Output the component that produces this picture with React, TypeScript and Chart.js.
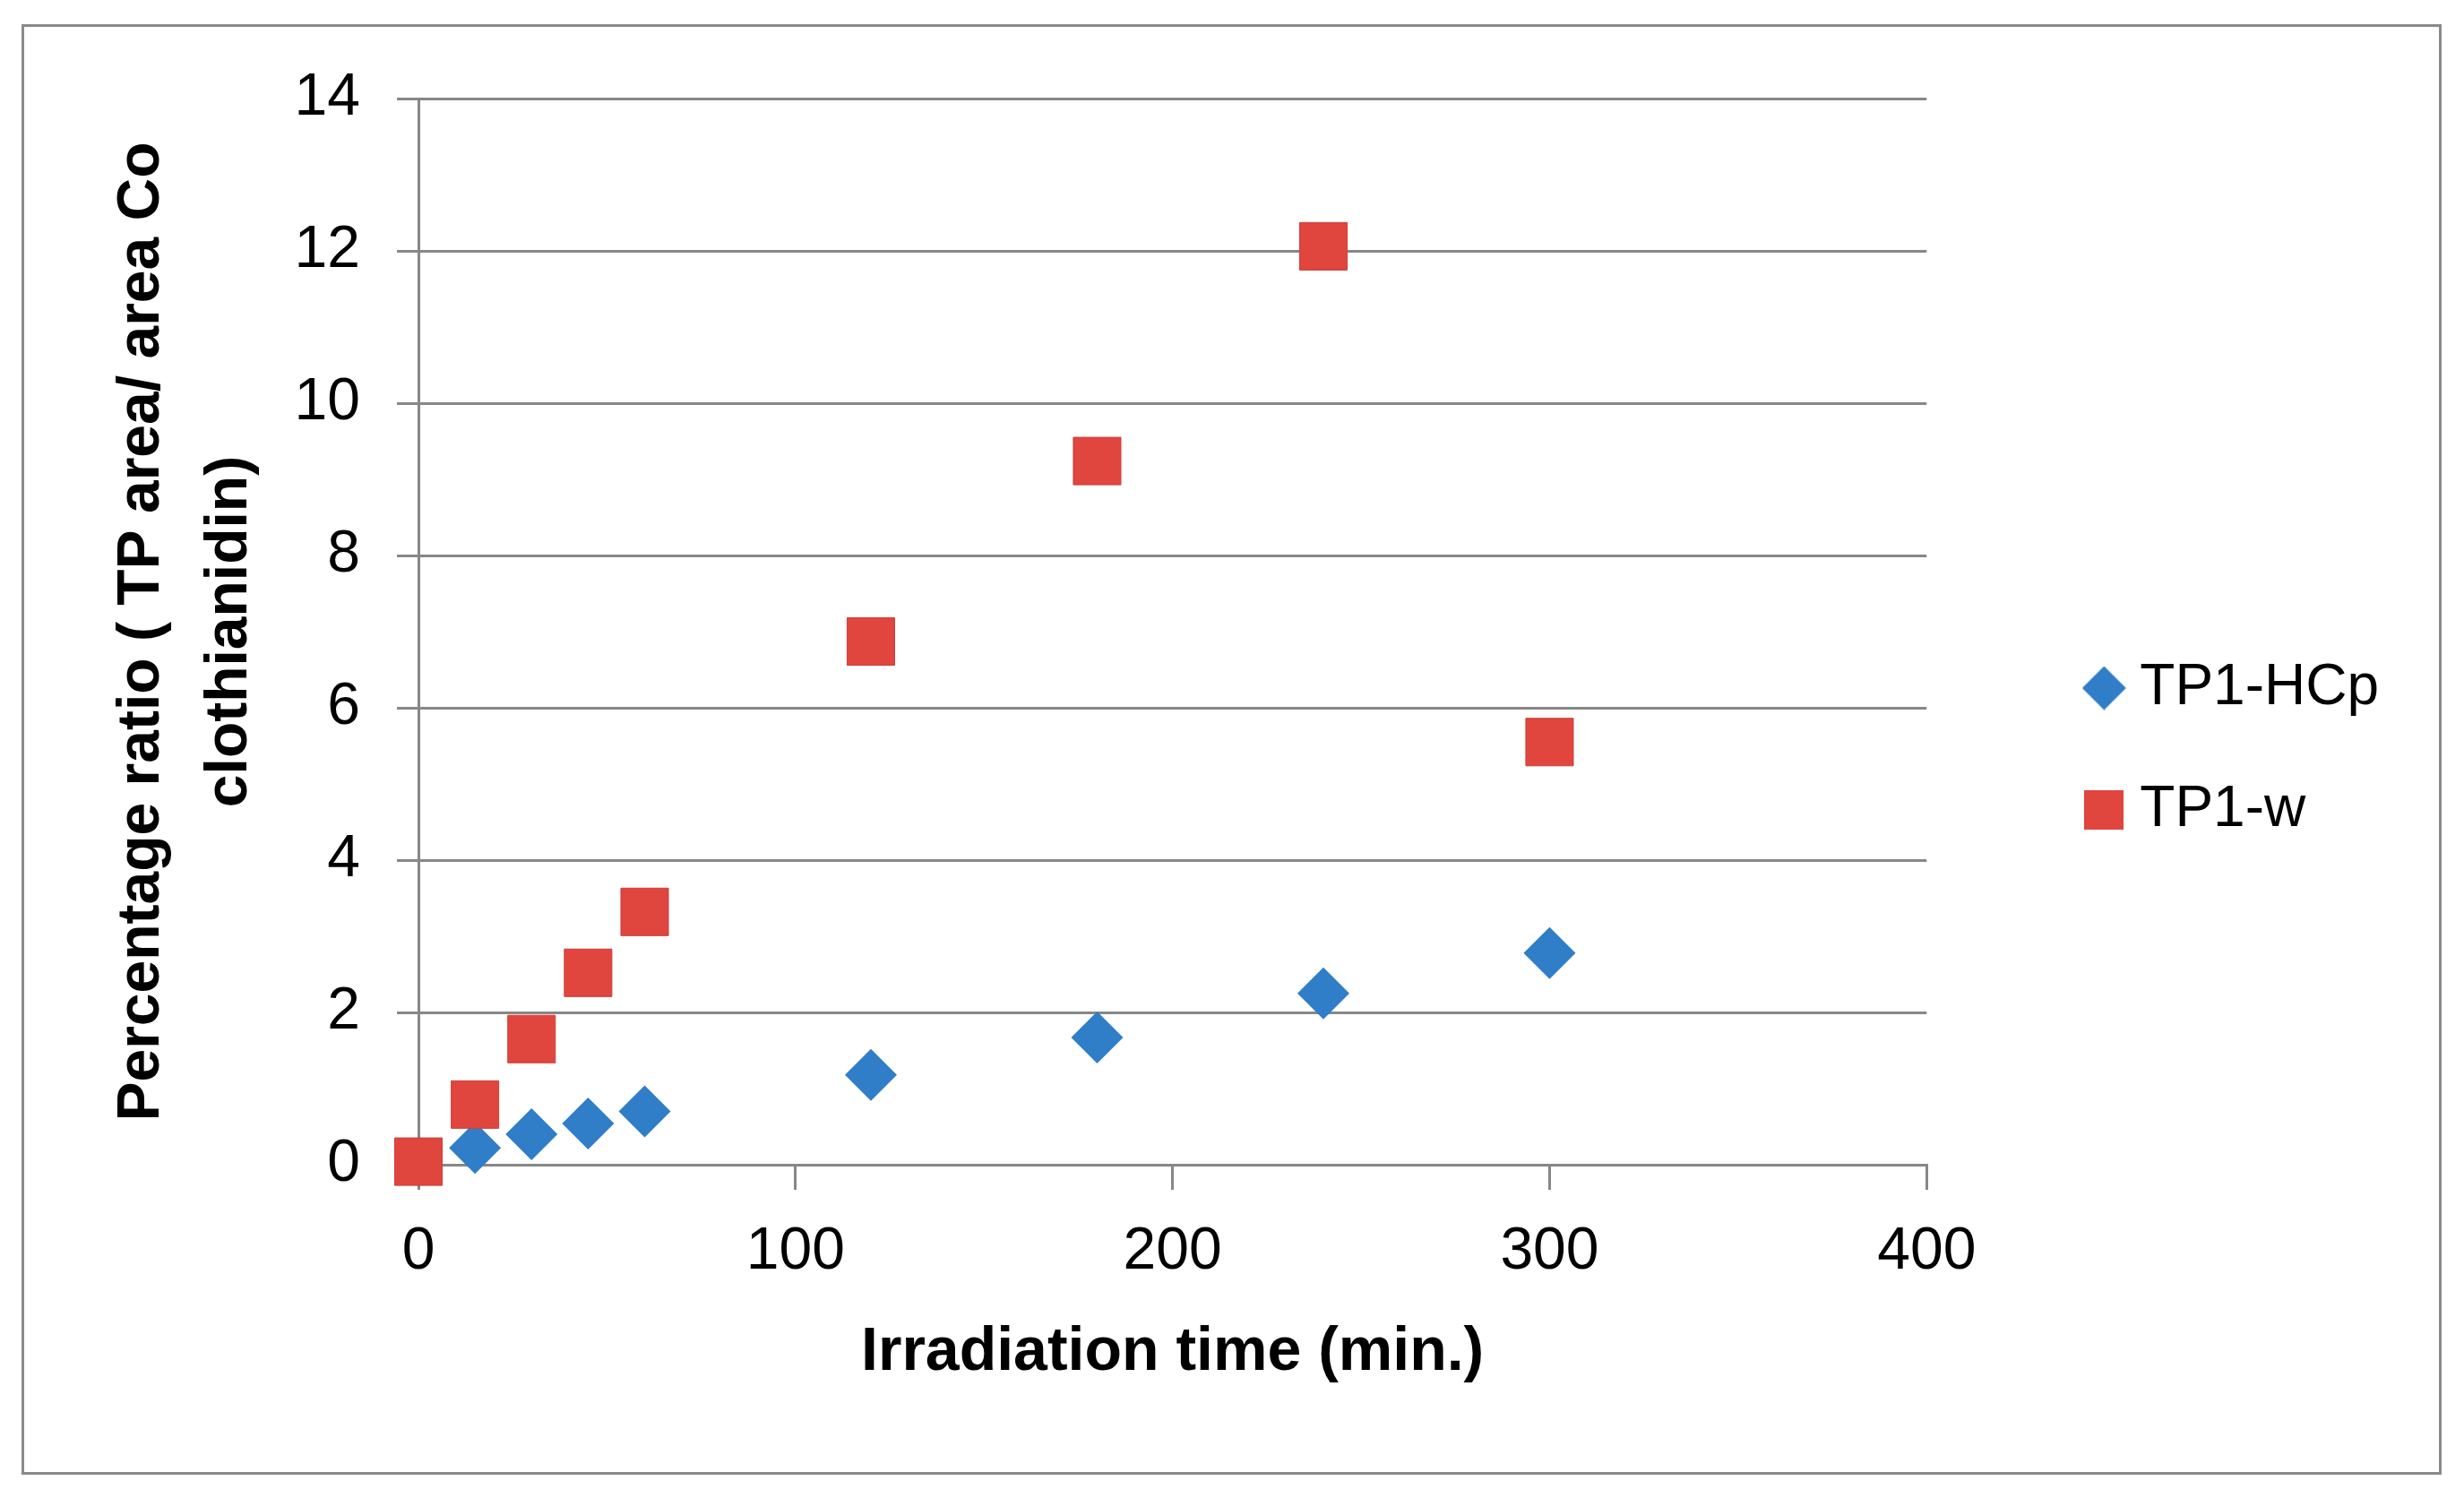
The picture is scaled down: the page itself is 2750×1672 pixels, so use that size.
import React, { useEffect, useRef } from 'react';
import { Chart, registerables } from 'chart.js';

Chart.register(...registerables);

// ---- data ----
const times = [0, 15, 30, 45, 60, 120, 180, 240, 300];
const tp1HCp = [null, 0.22, 0.4, 0.54, 0.7, 1.18, 1.67, 2.25, 2.78];
const tp1W = [0.04, 0.79, 1.65, 2.52, 3.32, 6.87, 9.24, 12.06, 5.55];
const seriesNames = ['TP1-HCp', 'TP1-w'];
const xTitle = 'Irradiation time (min.)';
const yTitleLines = ['Percentage ratio ( TP area/ area Co', 'clothianidin)'];
const xMin = 0;
const xMax = 400;
const xStep = 100;
const yMin = 0;
const yMax = 14;
const yStep = 2;

const BLUE = '#2F7EC7';
const RED = '#E0453E';
const GRAY = '#878787';
const FONT = "'Liberation Sans', Arial, sans-serif";

function makeDiamond(size: number, color: string) {
  const c = document.createElement('canvas');
  c.width = size;
  c.height = size;
  const ctx = c.getContext('2d')!;
  ctx.fillStyle = color;
  ctx.beginPath();
  ctx.moveTo(size / 2, 0);
  ctx.lineTo(size, size / 2);
  ctx.lineTo(size / 2, size);
  ctx.lineTo(0, size / 2);
  ctx.closePath();
  ctx.fill();
  return c;
}

function makeSquare(size: number, color: string) {
  const c = document.createElement('canvas');
  c.width = size;
  c.height = size;
  const ctx = c.getContext('2d')!;
  ctx.fillStyle = color;
  ctx.fillRect(0, 0, size, size);
  return c;
}

export default function App() {
  const ref = useRef<HTMLCanvasElement | null>(null);

  useEffect(() => {
    if (!ref.current) return;
    Chart.defaults.font.family = FONT;
    const legendDiamond = makeDiamond(49, BLUE);
    const legendSquare = makeSquare(44, RED);

    const chart = new Chart(ref.current, {
      type: 'scatter',
      data: {
        datasets: [
          {
            label: seriesNames[0],
            data: times.map((t, i) => ({ x: t, y: tp1HCp[i] })),
            pointStyle: 'rectRot',
            pointRadius: 29,
            pointHoverRadius: 29,
            backgroundColor: BLUE,
            borderColor: BLUE,
            borderWidth: 0,
            showLine: false,
            order: 1,
            clip: false,
          },
          {
            label: seriesNames[1],
            data: times.map((t, i) => ({ x: t, y: tp1W[i] })),
            pointStyle: 'rect',
            pointRadius: 37.5,
            pointHoverRadius: 37.5,
            backgroundColor: RED,
            borderColor: '#CC3F39',
            borderWidth: 1,
            showLine: false,
            order: 0,
            clip: false,
          },
        ],
      },
      options: {
        responsive: false,
        devicePixelRatio: 1,
        animation: false,
        events: [],
        layout: { padding: { left: 0, top: 0, right: 85, bottom: 0 } },
        plugins: {
          tooltip: { enabled: false },
          title: { display: false },
          legend: {
            display: true,
            position: 'right',
            align: 'center',
            labels: {
              usePointStyle: true,
              boxWidth: 16,
              boxHeight: 44,
              padding: 72,
              color: '#000',
              font: { size: 64, family: FONT },
              generateLabels: (c: any) => {
                const items = Chart.defaults.plugins.legend.labels.generateLabels(c);
                return items
                  .map((it: any) => ({
                    ...it,
                    pointStyle: it.datasetIndex === 0 ? legendDiamond : legendSquare,
                  }))
                  .sort((a: any, b: any) => a.datasetIndex - b.datasetIndex);
              },
            },
          },
        },
        scales: {
          x: {
            type: 'linear',
            position: 'bottom',
            min: xMin,
            max: xMax,
            ticks: { stepSize: xStep, color: '#000', font: { size: 66 }, padding: 30 },
            grid: { drawOnChartArea: false, drawTicks: true, tickLength: 28, color: GRAY, lineWidth: 3 },
            border: { color: GRAY, width: 3 },
            title: {
              display: true,
              text: xTitle,
              color: '#000',
              font: { size: 68, weight: 'bold' },
              padding: { top: 0, bottom: 121 },
            },
            afterFit: (s: any) => {
              s.height = 372;
            },
          },
          y: {
            type: 'linear',
            position: 'left',
            min: yMin,
            max: yMax,
            ticks: { stepSize: yStep, color: '#000', font: { size: 66 }, padding: 41 },
            grid: { color: GRAY, lineWidth: 3, drawTicks: true, tickLength: 24 },
            border: { color: GRAY, width: 3 },
            title: {
              display: true,
              text: yTitleLines,
              color: '#000',
              font: { size: 66, weight: 'bold', lineHeight: 1.48 },
              padding: { top: 110, bottom: 0 },
            },
            afterFit: (s: any) => {
              s.width = 467;
            },
          },
          yR: {
            type: 'linear',
            position: 'right',
            display: true,
            grid: { display: false },
            border: { display: false },
            ticks: { display: false },
            afterFit: (s: any) => {
              s.width = 118;
            },
          },
          xT: {
            type: 'linear',
            position: 'top',
            display: true,
            grid: { display: false },
            border: { display: false },
            ticks: { display: false },
            afterFit: (s: any) => {
              s.height = 110;
            },
          },
        },
      } as any,
    });
    return () => chart.destroy();
  }, []);

  return (
    <div style={{ position: 'fixed', left: 0, top: 0, width: 2750, height: 1672, background: '#fff' }}>
      <div
        style={{
          position: 'absolute',
          left: 24,
          top: 27,
          width: 2701,
          height: 1619,
          boxSizing: 'border-box',
          border: '3px solid #8A8A8A',
        }}
      />
      <canvas
        ref={ref}
        width={2750}
        height={1672}
        style={{ position: 'absolute', left: 0, top: 0, width: 2750, height: 1672 }}
      />
    </div>
  );
}
